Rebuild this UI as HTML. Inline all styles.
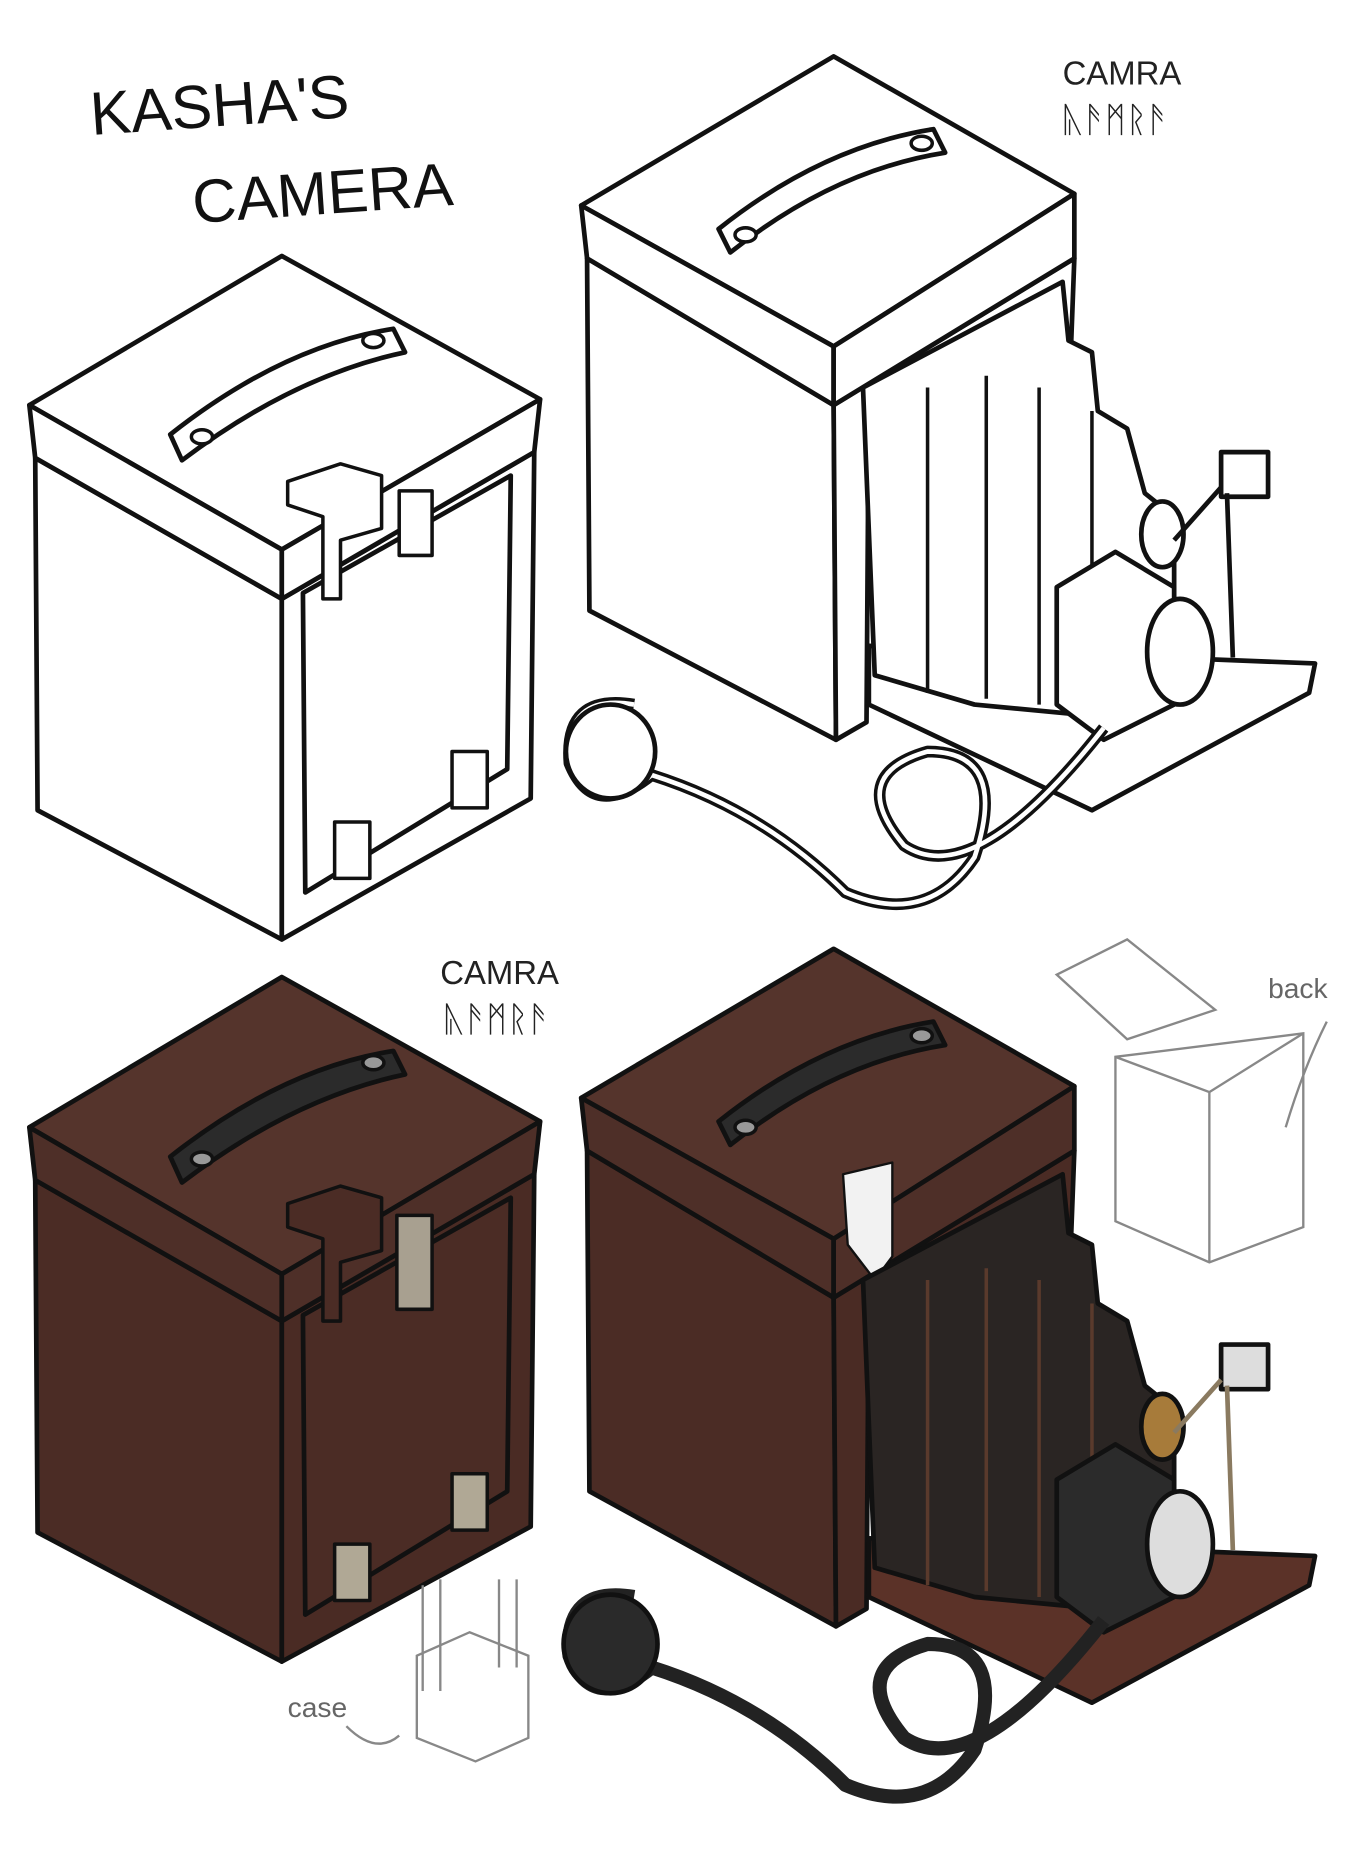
<!DOCTYPE html>
<html><head><meta charset="utf-8"><style>
html,body{margin:0;padding:0;background:#fff;}
svg{display:block;}
text{font-family:"Liberation Sans",sans-serif;}
</style></head><body>
<svg width="1362" height="1853" viewBox="0 0 1160 1578" preserveAspectRatio="none" xmlns="http://www.w3.org/2000/svg">
<rect width="1160" height="1578" fill="#fff"/>
<text x="78" y="115" font-size="52" fill="#111" transform="rotate(-4 78 115)">KASHA'S</text>
<text x="165" y="190" font-size="52" fill="#111" transform="rotate(-4 165 190)">CAMERA</text>
<text x="905" y="72" font-size="28" fill="#222">CAMRA</text>
<text x="905" y="112" font-size="30" fill="#222">ᚣᚫᛗᚱᚫ</text>
<text x="375" y="838" font-size="28" fill="#222">CAMRA</text>
<text x="378" y="878" font-size="30" fill="#222">ᚣᚫᛗᚱᚫ</text>

<g stroke="#111" stroke-width="4" stroke-linejoin="round">
<!-- Box 1 white -->
<polygon points="30,390 240,510 240,800 32,690" fill="#fff"/>
<polygon points="240,510 455,385 452,680 240,800" fill="#fff"/>
<polygon points="25,345 240,218 460,340 240,468" fill="#fff"/>
<polygon points="25,345 240,468 240,510 30,390" fill="#fff"/>
<polygon points="240,468 460,340 455,385 240,510" fill="#fff"/>
<polygon points="258,505 435,405 432,655 260,760" fill="#fff"/>
<path d="M145,370 Q240,295 335,280 L345,300 Q250,320 155,392 Z" fill="#fff"/>
<ellipse cx="172" cy="372" rx="9" ry="6" fill="#fff" stroke-width="3"/>
<ellipse cx="318" cy="290" rx="9" ry="6" fill="#fff" stroke-width="3"/>
<polygon points="245,410 290,395 325,405 325,450 290,460 290,510 275,510 275,440 245,430" fill="#fff" stroke-width="3"/>
<rect x="340" y="418" width="28" height="55" fill="#fff" stroke-width="3"/>
<rect x="285" y="700" width="30" height="48" fill="#fff" stroke-width="3"/>
<rect x="385" y="640" width="30" height="48" fill="#fff" stroke-width="3"/>
<!-- Box 3 brown -->
<polygon points="30,1005 240,1125 240,1415 32,1305" fill="#4b2c25"/>
<polygon points="240,1125 455,1000 452,1300 240,1415" fill="#4a2b24"/>
<polygon points="25,960 240,832 460,955 240,1085" fill="#55342c"/>
<polygon points="25,960 240,1085 240,1125 30,1005" fill="#4e2f28"/>
<polygon points="240,1085 460,955 455,1000 240,1125" fill="#4e2f28"/>
<polygon points="258,1120 435,1020 432,1270 260,1375" fill="#4b2c25"/>
<path d="M145,985 Q240,910 335,895 L345,915 Q250,935 155,1007 Z" fill="#2b2b2b"/>
<ellipse cx="172" cy="987" rx="9" ry="6" fill="#999" stroke-width="3"/>
<ellipse cx="318" cy="905" rx="9" ry="6" fill="#999" stroke-width="3"/>
<polygon points="245,1025 290,1010 325,1020 325,1065 290,1075 290,1125 275,1125 275,1055 245,1045" fill="#4b2c25" stroke-width="3"/>
<rect x="338" y="1035" width="30" height="80" fill="#a8a090" stroke-width="3"/>
<rect x="285" y="1315" width="30" height="48" fill="#b0a895" stroke-width="3"/>
<rect x="385" y="1255" width="30" height="48" fill="#b0a895" stroke-width="3"/>

<!-- Box 2 white -->
<polygon points="500,220 710,345 712,630 502,520" fill="#fff"/>
<polygon points="710,345 915,220 912,300 740,330 738,615 712,630" fill="#fff"/>
<polygon points="495,175 710,48 915,165 710,295" fill="#fff"/>
<polygon points="495,175 710,295 710,345 500,220" fill="#fff"/>
<polygon points="710,295 915,165 915,220 710,345" fill="#fff"/>
<path d="M612,195 Q700,125 795,110 L805,130 Q710,145 622,215 Z" fill="#fff"/>
<ellipse cx="635" cy="200" rx="9" ry="6" fill="#fff" stroke-width="3"/>
<ellipse cx="785" cy="122" rx="9" ry="6" fill="#fff" stroke-width="3"/>
<polygon points="740,550 1120,565 1115,590 930,690 740,600" fill="#fff"/>
<polygon points="735,330 905,240 910,290 930,300 935,350 960,365 975,420 1000,440 1000,560 935,610 830,600 745,575" fill="#fff"/>
<path d="M790,330 L790,590 M840,320 L840,595 M885,330 L885,600 M930,350 L930,600" fill="none" stroke-width="3"/>
<path d="M900,500 L950,470 L1000,500 L1000,600 L940,630 L900,600 Z" fill="#fff"/>
<ellipse cx="1005" cy="555" rx="28" ry="45" fill="#fff"/>
<ellipse cx="990" cy="455" rx="18" ry="28" fill="#fff"/>
<rect x="1040" y="385" width="40" height="38" fill="#fff"/>
<path d="M1040,415 L1000,460 M1045,420 L1050,560" fill="none"/>
<path d="M540,600 Q480,590 485,650 Q505,700 555,660 Q650,690 720,760 Q790,790 830,730 Q860,640 790,640 Q720,660 770,720 Q830,760 940,620" fill="none" stroke-width="10"/>
<path d="M540,600 Q480,590 485,650 Q505,700 555,660 Q650,690 720,760 Q790,790 830,730 Q860,640 790,640 Q720,660 770,720 Q830,760 940,620" fill="none" stroke="#fff" stroke-width="4"/>
<ellipse cx="520" cy="640" rx="38" ry="40" fill="#fff"/>

<!-- Box 4 brown -->
<polygon points="500,980 710,1105 712,1385 502,1270" fill="#4b2c25"/>
<polygon points="710,1105 915,980 912,1060 740,1090 738,1370 712,1385" fill="#4a2b24"/>
<polygon points="495,935 710,808 915,925 710,1055" fill="#55342c"/>
<polygon points="495,935 710,1055 710,1105 500,980" fill="#4e2f28"/>
<polygon points="710,1055 915,925 915,980 710,1105" fill="#4e2f28"/>
<path d="M612,955 Q700,885 795,870 L805,890 Q710,905 622,975 Z" fill="#2b2b2b"/>
<ellipse cx="635" cy="960" rx="9" ry="6" fill="#999" stroke-width="3"/>
<ellipse cx="785" cy="882" rx="9" ry="6" fill="#999" stroke-width="3"/>
<path d="M718,1000 L760,990 L760,1070 L745,1090 L722,1060 Z" fill="#f2f2f2" stroke-width="2"/>
<polygon points="740,1310 1120,1325 1115,1350 930,1450 740,1360" fill="#5b3228"/>
<polygon points="735,1090 905,1000 910,1050 930,1060 935,1110 960,1125 975,1180 1000,1200 1000,1320 935,1370 830,1360 745,1335" fill="#2a2523"/>
<path d="M790,1090 L790,1350 M840,1080 L840,1355 M885,1090 L885,1360 M930,1110 L930,1360" fill="none" stroke="#5a3a2c" stroke-width="3"/>
<path d="M900,1260 L950,1230 L1000,1260 L1000,1360 L940,1390 L900,1360 Z" fill="#2b2b2b"/>
<ellipse cx="1005" cy="1315" rx="28" ry="45" fill="#ddd"/>
<ellipse cx="990" cy="1215" rx="18" ry="28" fill="#a77b3a"/>
<rect x="1040" y="1145" width="40" height="38" fill="#ddd"/>
<path d="M1040,1175 L1000,1220 M1045,1180 L1050,1320" fill="none" stroke="#8a7a60"/>
<path d="M540,1360 Q480,1350 485,1410 Q505,1460 555,1420 Q650,1450 720,1520 Q790,1550 830,1490 Q860,1400 790,1400 Q720,1420 770,1480 Q830,1520 940,1380" fill="none" stroke="#222" stroke-width="12"/>
<ellipse cx="520" cy="1400" rx="40" ry="42" fill="#2a2a2a"/>
</g>
<g stroke="#888" stroke-width="2" fill="none">
<polygon points="950,900 1110,880 1110,1045 1030,1075 950,1040"/>
<polygon points="900,830 960,800 1035,860 960,885"/>
<path d="M950,900 L1030,930 L1110,880 M1030,930 L1030,1075"/>
<polygon points="355,1410 400,1390 450,1410 450,1480 405,1500 355,1480"/>
<path d="M360,1350 L360,1440 M375,1345 L375,1440 M425,1345 L425,1420 M440,1345 L440,1420"/>
<path d="M1130,870 Q1110,910 1095,960 M295,1470 Q320,1495 340,1478"/>
</g>
<text x="1080" y="850" font-size="24" fill="#666">back</text>
<text x="245" y="1462" font-size="24" fill="#666">case</text>
</svg>
</body></html>
